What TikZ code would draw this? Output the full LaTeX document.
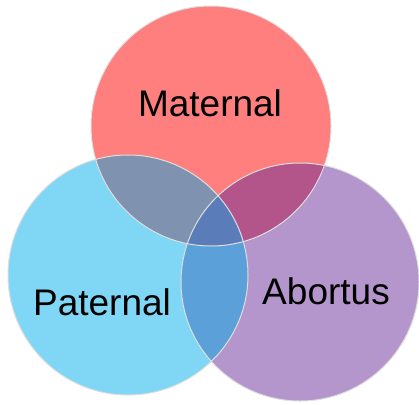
\documentclass[tikz,border=0pt]{standalone}
\usepackage{fontspec}
\setmainfont{Liberation Sans}
\usepackage{tikz}
\definecolor{matfill}{RGB}{255,127,127}
\definecolor{patfill}{RGB}{128,215,245}
\definecolor{abofill}{RGB}{180,149,204}
\definecolor{matpatfill}{RGB}{127,146,176}
\definecolor{matabofill}{RGB}{179,84,138}
\definecolor{patabofill}{RGB}{92,160,218}
\definecolor{allfill}{RGB}{90,125,186}
\tikzset{
  setline/.style={draw=black!13,line width=1pt},
  setlabel/.style={font=\fontsize{37}{40}\selectfont,anchor=base,inner sep=0pt}
}

\begin{document}
\begin{tikzpicture}[x=1pt,y=-1pt]
\useasboundingbox (0,0) rectangle (419,404);
% centros de los conjuntos
\coordinate (mat) at (211,126);
\coordinate (pat) at (128,275);
\coordinate (abo) at (300,282);

\fill[matfill] (mat) circle (120pt);
\fill[patfill] (pat) circle (120pt);
\fill[abofill] (abo) circle (119pt);

% intersecciones
\begin{scope}
\clip (mat) circle (120pt);
\fill[matpatfill] (pat) circle (120pt);
\fill[matabofill] (abo) circle (119pt);
\end{scope}
\begin{scope}
\clip (pat) circle (120pt);
\fill[patabofill] (abo) circle (119pt);
\clip (abo) circle (119pt);
\fill[allfill] (mat) circle (120pt);
\end{scope}

\draw[setline] (mat) circle (120pt);
\draw[setline] (pat) circle (120pt);
\draw[setline] (abo) circle (119pt);

\node[setlabel] (matlabel) at (210,116) {Maternal};
\node[setlabel] (patlabel) at (102,315) {Paternal};
\node[setlabel] (abolabel) at (326,304) {Abortus};
\end{tikzpicture}
\end{document}
